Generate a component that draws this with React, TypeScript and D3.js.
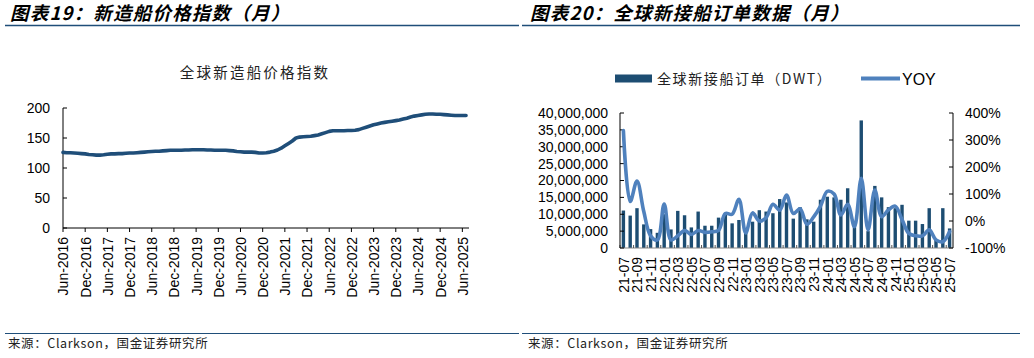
import React from 'react';
import * as d3 from 'd3';

// 图表19 新造船价格指数（月）, Jun-2016 .. Jul-2025
const priceValues: number[] = [
  126, 125.5, 125.5, 125, 124.5, 124, 123.5,
  122.5, 122, 121.5, 121.5, 122, 123, 123.5, 123.5, 124, 124, 124.5, 125,
  125, 125.5, 126, 126.5, 127, 127.5, 128, 128, 128.5, 129, 129.5, 129.5,
  129.5, 129.5, 130, 130, 130.5, 130.5, 130.5, 130.5, 130, 130, 129.5, 129.5,
  129.5, 129.5, 129, 128.5, 127.5, 127, 126.5, 126.5, 126.5, 126, 125, 125,
  125.5, 126.5, 128, 130, 133, 137, 141, 145, 150, 151.5, 152, 152.5,
  153, 154, 155, 157, 159, 161, 162, 162, 162, 162, 162.5, 162.5,
  163, 164, 166, 168, 170, 172, 173.5, 175, 176, 177, 178, 179,
  180, 181.5, 183, 185, 186.5, 187.5, 188.5, 189.5, 190, 190, 189.5, 189.5,
  189, 188.5, 188, 187.5, 187.5, 187.5, 187.5,
];
const priceTickLabels: string[] = [
  'Jun-2016', 'Dec-2016', 'Jun-2017', 'Dec-2017', 'Jun-2018', 'Dec-2018',
  'Jun-2019', 'Dec-2019', 'Jun-2020', 'Dec-2020', 'Jun-2021', 'Dec-2021',
  'Jun-2022', 'Dec-2022', 'Jun-2023', 'Dec-2023', 'Jun-2024', 'Dec-2024', 'Jun-2025',
];
const priceYTicks: number[] = [0, 50, 100, 150, 200];

// 图表20 全球新接船订单数据（月）
const orderMonths: string[] = [
  '21-07', '21-08', '21-09', '21-10', '21-11', '21-12',
  '22-01', '22-02', '22-03', '22-04', '22-05', '22-06', '22-07', '22-08', '22-09', '22-10', '22-11', '22-12',
  '23-01', '23-02', '23-03', '23-04', '23-05', '23-06', '23-07', '23-08', '23-09', '23-10', '23-11', '23-12',
  '24-01', '24-02', '24-03', '24-04', '24-05', '24-06', '24-07', '24-08', '24-09', '24-10', '24-11', '24-12',
  '25-01', '25-02', '25-03', '25-04', '25-05', '25-06', '25-07',
];
const orderDWT: number[] = [
  11.1e6, 9.6e6, 11.8e6, 7.0e6, 5.6e6, 4.5e6,
  10.0e6, 5.5e6, 11.0e6, 9.7e6, 6.1e6, 10.8e6, 6.6e6, 6.6e6, 9.0e6, 10.0e6, 7.3e6, 8.3e6,
  5.0e6, 7.8e6, 11.2e6, 10.8e6, 10.3e6, 14.5e6, 13.5e6, 8.7e6, 12.1e6, 8.5e6, 7.8e6, 14.3e6,
  15.2e6, 15.0e6, 14.3e6, 17.7e6, 6.5e6, 37.8e6, 5.0e6, 18.4e6, 15.0e6, 12.1e6, 11.8e6, 12.8e6,
  8.1e6, 8.1e6, 7.1e6, 11.8e6, 2.5e6, 11.8e6, 5.8e6,
];
const orderYoY: number[] = [
  335, 72, 148, 35, -55, -70,
  63, -70, -55, -35, -50, -35, -42, -40, -35, 28, 25, 80,
  -44, 30, 0, 12, 62, 40, 96, 28, 45, -12, 15, 55,
  110, 100, 22, 62, -21, 158, -33, 115, 16, 41, 55, 5,
  -46, -55, -55, -33, -70, -77, -39,
];
const orderLeftTicks: number[] = [0, 5e6, 10e6, 15e6, 20e6, 25e6, 30e6, 35e6, 40e6];
const orderRightTicks: number[] = [-100, 0, 100, 200, 300, 400];

const NAVY = '#1f4e79';
const BAR = '#1d4d72';
const LINE2 = '#4f81bd';
const LATIN = '"Liberation Sans", Arial, sans-serif';
const CJK = '"Noto Sans CJK SC", "Noto Sans", sans-serif';

const PriceChart = () => {
  const x = d3.scaleLinear().domain([0, 109.8]).range([63, 469]);
  const y = d3.scaleLinear().domain([0, 200]).range([228, 108]);
  const line = d3
    .line<number>()
    .x((d, i) => x(i))
    .y((d) => y(d));

  return (
    <g>
      <text x={255} y={78} textAnchor="middle" fontFamily={CJK} fontSize={14.5} letterSpacing={2.2} fill="#222">
        全球新造船价格指数
      </text>
      {/* y axis */}
      <line x1={63} x2={63} y1={y(200)} y2={y(0)} stroke="#000" strokeWidth={1} />
      {priceYTicks.map((t) => (
        <g key={t}>
          <line x1={63} x2={67} y1={y(t)} y2={y(t)} stroke="#000" />
          <text x={50} y={y(t)} dy="0.35em" textAnchor="end" fontFamily={LATIN} fontSize={14} fill="#000">
            {t}
          </text>
        </g>
      ))}
      {/* x axis */}
      <line x1={63} x2={469} y1={228} y2={228} stroke="#000" strokeWidth={1} />
      {priceTickLabels.map((lab, k) => {
        const px = x(k * 6);
        return (
          <g key={lab}>
            <line x1={px} x2={px} y1={228} y2={232} stroke="#000" />
            <text
              transform={`translate(${px + 0.5},237) rotate(-90)`}
              textAnchor="end"
              dy="0.35em"
              fontFamily={LATIN}
              fontSize={14}
              fill="#000"
            >
              {lab}
            </text>
          </g>
        );
      })}
      <path
        d={line(priceValues) || ''}
        fill="none"
        stroke={NAVY}
        strokeWidth={3.6}
        strokeLinejoin="round"
        strokeLinecap="round"
      />
    </g>
  );
};

const OrderChart = () => {
  const left = 620;
  const right = 953;
  const top = 113;
  const bottom = 248;
  const x = d3.scaleBand<string>().domain(orderMonths).range([left, right]).paddingInner(0.5).paddingOuter(0.25);
  const yL = d3.scaleLinear().domain([0, 40e6]).range([bottom, top]);
  const yR = d3.scaleLinear().domain([-100, 400]).range([bottom, top]);
  const step = x.step();
  const fmt = d3.format(',');
  const cx = (m: string) => (x(m) as number) + x.bandwidth() / 2;
  const yoyLine = d3
    .line<number>()
    .x((d, i) => cx(orderMonths[i]))
    .y((d) => yR(d))
    .curve(d3.curveCatmullRom.alpha(0.5));

  return (
    <g>
      {/* legend */}
      <rect x={615} y={74.5} width={37} height={8} fill={BAR} />
      <text x={657} y={84} fontFamily={CJK} fontSize={14} letterSpacing={1.6} fill="#222">
        全球新接船订单（DWT）
      </text>
      <line x1={861} x2={900} y1={78.5} y2={78.5} stroke={LINE2} strokeWidth={4} />
      <text x={902} y={85} fontFamily={LATIN} fontSize={16} fill="#000">
        YOY
      </text>

      {/* bars */}
      {orderDWT.map((v, i) => (
        <rect
          key={orderMonths[i]}
          x={x(orderMonths[i])}
          y={yL(v)}
          width={x.bandwidth()}
          height={bottom - yL(v)}
          fill={BAR}
        />
      ))}

      {/* x axis */}
      <line x1={left} x2={right} y1={bottom} y2={bottom} stroke="#888" strokeWidth={1} />
      {orderMonths.map((m, i) =>
        i % 2 === 0 ? (
          <g key={m}>
            <line x1={left + i * step} x2={left + i * step} y1={bottom} y2={bottom - 3} stroke="#555" />
            <text
              transform={`translate(${cx(m) + 0.5},257) rotate(-90)`}
              textAnchor="end"
              dy="0.35em"
              fontFamily={LATIN}
              fontSize={14}
              fill="#000"
            >
              {m}
            </text>
          </g>
        ) : null
      )}

      {/* left axis */}
      <line x1={left} x2={left} y1={top} y2={bottom} stroke="#000" />
      {orderLeftTicks.map((t) => (
        <g key={t}>
          <line x1={left} x2={left + 4} y1={yL(t)} y2={yL(t)} stroke="#000" />
          <text x={608} y={yL(t)} dy="0.35em" textAnchor="end" fontFamily={LATIN} fontSize={14} fill="#000">
            {fmt(t)}
          </text>
        </g>
      ))}

      {/* right axis */}
      <line x1={right} x2={right} y1={top} y2={bottom} stroke="#000" />
      {orderRightTicks.map((t) => (
        <g key={t}>
          <line x1={right - 4} x2={right} y1={yR(t)} y2={yR(t)} stroke="#000" />
          <text x={965} y={yR(t)} dy="0.35em" textAnchor="start" fontFamily={LATIN} fontSize={14} fill="#000">
            {t}%
          </text>
        </g>
      ))}

      <path
        d={yoyLine(orderYoY) || ''}
        fill="none"
        stroke={LINE2}
        strokeWidth={3.6}
        strokeLinejoin="round"
        strokeLinecap="round"
      />
    </g>
  );
};

export default function App() {
  return (
    <svg width={1034} height={358} style={{ position: 'absolute', left: 0, top: 0, background: '#fff' }}>
      {/* headers */}
      <text x={10} y={20} fontFamily={CJK} fontSize={18.5} fontWeight="bold" fontStyle="italic" letterSpacing={1.2} fill="#000">
        图表19：新造船价格指数（月）
      </text>
      <text x={530} y={20} fontFamily={CJK} fontSize={18.5} fontWeight="bold" fontStyle="italic" letterSpacing={1.2} fill="#000">
        图表20：全球新接船订单数据（月）
      </text>
      <line x1={5} x2={519} y1={25.5} y2={25.5} stroke={NAVY} strokeWidth={1.5} />
      <line x1={522} x2={1020} y1={25.5} y2={25.5} stroke={NAVY} strokeWidth={1.5} />

      <PriceChart />
      <OrderChart />

      {/* footers */}
      <line x1={5} x2={519} y1={333.5} y2={333.5} stroke={NAVY} strokeWidth={1.2} />
      <line x1={522} x2={1020} y1={333.5} y2={333.5} stroke={NAVY} strokeWidth={1.2} />
      <text x={8} y={348} fontFamily={CJK} fontSize={12.5} letterSpacing={0.6} fill="#222">
        来源：Clarkson，国金证券研究所
      </text>
      <text x={528} y={348} fontFamily={CJK} fontSize={12.5} letterSpacing={0.6} fill="#222">
        来源：Clarkson，国金证券研究所
      </text>
    </svg>
  );
}
